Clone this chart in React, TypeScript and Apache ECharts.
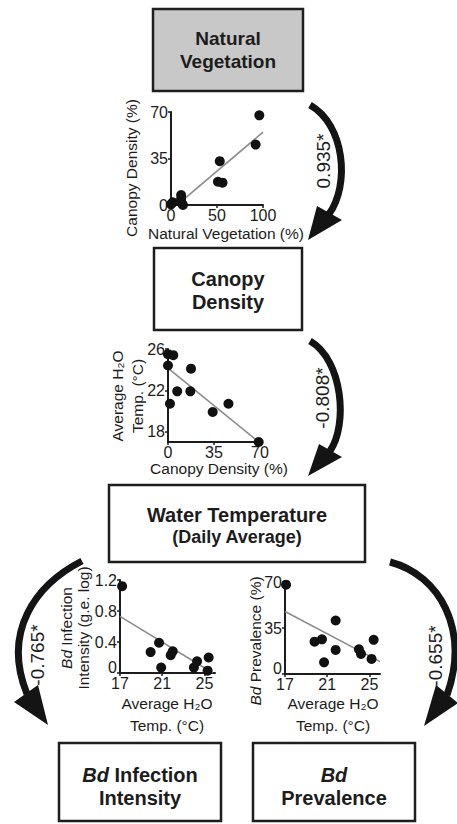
import React, { useEffect, useRef } from "react";
import * as echarts from "echarts";

// ---------- data ----------
// Panel 1: Natural Vegetation (%) vs Canopy Density (%)
const vegX = [0, 2, 11, 11, 12, 13, 51, 56, 53, 92, 96];
const vegCanopyY = [0.5, 2, 7.5, 4.5, 1, 0, 17.5, 16.8, 33, 45.5, 67.5];
const vegTrend = [[8, 0.8], [100, 54.8]];
const vegXTicks = [0, 50, 100];
const vegYTicks = [0, 35, 70];

// Panel 2: Canopy Density (%) vs Average water temp (°C)
const canopyX = [0, 4, 0, 17.5, 7, 17, 1.5, 46, 34, 69];
const waterTempY = [25.5, 25.4, 24.4, 24.1, 21.9, 21.9, 20.7, 20.7, 19.9, 17.0];
const canopyTrend = [[0, 24.15], [69, 17.0]];
const canopyXTicks = [0, 35, 70];
const waterYTicks = [18, 22, 26];

// Panel 3: Average water temp vs Bd infection intensity (g.e. log)
const intTempX = [17.2, 19.9, 20.7, 20.9, 21.8, 22.0, 24.0, 24.3, 25.4, 25.3];
const intensityY = [1.12, 0.27, 0.39, 0.07, 0.23, 0.28, 0.07, 0.15, 0.2, 0.03];
const intensityTrend = [[17, 0.73], [25.8, 0]];
const tempXTicks = [17, 21, 25];
const intensityYTicks = [0, 0.4, 0.8, 1.2];

// Panel 4: Average water temp vs Bd prevalence (%)
const prevTempX = [17.1, 19.8, 20.5, 20.7, 21.8, 21.8, 24.0, 24.2, 25.2, 25.4];
const prevalenceY = [68, 24.6, 26.4, 8.9, 40.7, 18.3, 18.8, 15.3, 11.5, 26];
const prevalenceTrend = [[17, 47.5], [26, 9.4]];
const prevalenceYTicks = [0, 35, 70];

// path coefficients
const coefficients = ["0.935*", "-0.808*", "-0.765*", "-0.655*"];

// ---------- styling ----------
const FONT = '"Liberation Sans", Arial, Helvetica, sans-serif';
const TXT = "#1c1c1c";
const AX = "#1c1c1c";
const DOT = "#111111";
const TREND = "#8c8c8c";

function axis(min: number, max: number, ticks: number[], isX: boolean, liftZero = false) {
  return {
    type: "value",
    min,
    max,
    position: isX ? "bottom" : "left",
    axisLine: { show: true, onZero: false, lineStyle: { color: AX, width: 2 } },
    axisTick: { show: true, customValues: ticks, length: 3, lineStyle: { color: AX, width: 1.5 } },
    axisLabel: {
      show: true,
      customValues: ticks,
      color: TXT,
      fontSize: 16,
      fontFamily: FONT,
      margin: isX ? 2 : 3,
      formatter: (v: number) => (liftZero && v === 0 ? "{z|0}" : String(v)),
      rich: {
        z: { fontSize: 16, fontFamily: FONT, color: TXT, padding: [0, 0, 12, 0] },
      },
    },
    splitLine: { show: false },
  };
}

function zip(xs: number[], ys: number[]) {
  return xs.map((x, i) => [x, ys[i]]);
}

function txt(
  x: number,
  y: number,
  text: string,
  size: number,
  opts: { bold?: boolean; rot?: number; lh?: number; rich?: any } = {}
) {
  return {
    type: "text",
    x,
    y,
    rotation: opts.rot ?? 0,
    z: 10,
    style: {
      text,
      x: 0,
      y: 0,
      fill: TXT,
      fontSize: size,
      fontFamily: FONT,
      fontWeight: opts.bold ? "bold" : "normal",
      align: "center",
      verticalAlign: "middle",
      textAlign: "center",
      textVerticalAlign: "middle",
      lineHeight: opts.lh ?? Math.round(size * 1.2),
      rich: opts.rich,
    },
  };
}

function box(x: number, y: number, w: number, h: number, fill: string) {
  return {
    type: "rect",
    z: 5,
    shape: { x, y, width: w, height: h },
    style: { fill, stroke: "#1e1e1e", lineWidth: 2.5 },
  };
}

function arrow(
  p0: number[],
  c1: number[],
  c2: number[],
  p1: number[],
  head: number[][]
) {
  return [
    {
      type: "bezierCurve",
      z: 6,
      shape: { x1: p0[0], y1: p0[1], cpx1: c1[0], cpy1: c1[1], cpx2: c2[0], cpy2: c2[1], x2: p1[0], y2: p1[1] },
      style: { stroke: "#141414", lineWidth: 7, fill: null },
    },
    { type: "polygon", z: 6, shape: { points: head }, style: { fill: "#141414" } },
  ];
}

const italicRich = (size: number, bold: boolean) => ({
  i: { fontStyle: "italic", fontSize: size, fontFamily: FONT, fontWeight: bold ? "bold" : "normal", fill: TXT },
  n: { fontSize: size, fontFamily: FONT, fontWeight: bold ? "bold" : "normal", fill: TXT },
});

export default function App() {
  const ref = useRef<HTMLDivElement>(null);

  useEffect(() => {
    if (!ref.current) return;
    const chart = echarts.init(ref.current, undefined, { renderer: "svg" });
    const ROT = Math.PI / 2;

    const scatter = (idx: number, data: number[][]) => ({
      type: "scatter",
      xAxisIndex: idx,
      yAxisIndex: idx,
      data,
      symbolSize: 10,
      itemStyle: { color: DOT, opacity: 1 },
      z: 3,
      silent: true,
    });
    const trend = (idx: number, data: number[][]) => ({
      type: "line",
      xAxisIndex: idx,
      yAxisIndex: idx,
      data,
      showSymbol: false,
      symbol: "none",
      lineStyle: { color: TREND, width: 1.6 },
      z: 2,
      silent: true,
    });

    const graphic: any[] = [
      // boxes
      box(153, 9, 150, 82, "#c8c8c8"),
      txt(228, 50, "Natural\nVegetation", 19, { bold: true, lh: 23 }),
      box(154, 248, 148, 82, "#ffffff"),
      txt(228, 290, "Canopy\nDensity", 20, { bold: true, lh: 23 }),
      box(109, 485, 256, 77, "#ffffff"),
      txt(237, 515, "Water Temperature", 20, { bold: true }),
      txt(237, 537, "(Daily Average)", 18, { bold: true }),
      box(59, 743, 162, 78, "#ffffff"),
      txt(140, 786, "{i|Bd}{n| Infection}\n{n|Intensity}", 20, { bold: true, lh: 23, rich: italicRich(20, true) }),
      box(253, 743, 162, 78, "#ffffff"),
      txt(334, 786, "{i|Bd}\n{n|Prevalence}", 20, { bold: true, lh: 23, rich: italicRich(20, true) }),

      // axis titles
      txt(131, 168, "Canopy Density (%)", 15.5, { rot: ROT }),
      txt(226, 233, "Natural Vegetation (%)", 15.5),
      txt(127, 396, "Average H\u2082O\nTemp. (°C)", 15.5, { rot: ROT, lh: 20 }),
      txt(219, 468, "Canopy Density (%)", 15.5),
      txt(75, 628, "{i|Bd}{n| Infection}\n{n|Intensity (g.e. log)}", 15.5, { rot: ROT, lh: 17, rich: italicRich(15.5, false) }),
      txt(167, 714, "Average H\u2082O\nTemp. (°C)", 15.5, { lh: 22 }),
      txt(255, 641, "{i|Bd}{n| Prevalence (%)}", 15.5, { rot: ROT, rich: italicRich(15.5, false) }),
      txt(333, 714, "Average H\u2082O\nTemp. (°C)", 15.5, { lh: 22 }),

      // arrows
      ...arrow([310, 105], [345, 125], [350, 185], [329, 214], [[317, 206], [342, 220], [308, 240]]),
      ...arrow([310, 341], [343, 360], [348, 425], [330, 451], [[319, 444], [342, 457], [308, 476]]),
      ...arrow([82, 561], [35, 585], [2, 632], [27, 694], [[14, 702], [38, 685], [48, 725]]),
      ...arrow([390, 562], [440, 575], [470, 630], [447, 695], [[436, 685], [458, 703], [424, 726]]),

      // coefficients
      txt(323, 161, coefficients[0], 19, { rot: ROT }),
      txt(322, 398, coefficients[1], 19, { rot: ROT }),
      txt(37, 655, coefficients[2], 19, { rot: ROT }),
      txt(435, 656, coefficients[3], 19, { rot: ROT }),
    ];

    chart.setOption({
      animation: false,
      backgroundColor: "#ffffff",
      grid: [
        { left: 171, top: 112, width: 92, height: 93 },
        { left: 168, top: 349, width: 92, height: 93 },
        { left: 120, top: 580, width: 95, height: 93 },
        { left: 285, top: 582, width: 95, height: 92 },
      ],
      xAxis: [
        { ...axis(0, 100, vegXTicks, true), gridIndex: 0 },
        { ...axis(0, 70, canopyXTicks, true), gridIndex: 1 },
        { ...axis(17, 26, tempXTicks, true), gridIndex: 2 },
        { ...axis(17, 26, tempXTicks, true), gridIndex: 3 },
      ],
      yAxis: [
        { ...axis(0, 70, vegYTicks, false), gridIndex: 0 },
        { ...axis(17, 26, waterYTicks, false), gridIndex: 1 },
        { ...axis(0, 1.2, intensityYTicks, false, true), gridIndex: 2 },
        { ...axis(0, 70, prevalenceYTicks, false, true), gridIndex: 3 },
      ],
      series: [
        trend(0, vegTrend),
        scatter(0, zip(vegX, vegCanopyY)),
        trend(1, canopyTrend),
        scatter(1, zip(canopyX, waterTempY)),
        trend(2, intensityTrend),
        scatter(2, zip(intTempX, intensityY)),
        trend(3, prevalenceTrend),
        scatter(3, zip(prevTempX, prevalenceY)),
      ],
      graphic,
    });

    return () => chart.dispose();
  }, []);

  return (
    <div
      ref={ref}
      style={{ position: "absolute", left: 0, top: 0, width: 457, height: 824, background: "#fff" }}
    />
  );
}
